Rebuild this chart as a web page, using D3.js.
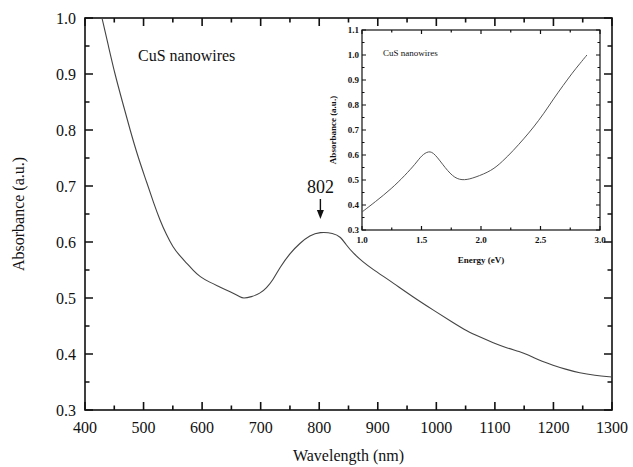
<!DOCTYPE html>
<html>
<head>
<meta charset="utf-8">
<script src="https://cdn.jsdelivr.net/npm/d3@7"></script>
<style>
  body { margin: 0; background: #fff; }
  svg { display: block; }
</style>
</head>
<body>
<div id="chart"></div>
<script>
// main spectrum: wavelength (nm) vs absorbance
const wavelength = [429, 440, 451, 464, 477, 491, 506, 517, 528, 539, 550, 562, 574, 585, 596, 613, 630, 648, 665, 670, 684, 699, 710, 721, 733, 750, 767, 784, 801, 824, 837, 845, 858, 875, 892, 909, 926, 960, 994, 1030, 1052, 1075, 1097, 1120, 1143, 1155, 1165, 1180, 1199, 1220, 1245, 1270, 1300];
const absorbance = [1.0, 0.95, 0.9, 0.85, 0.8, 0.75, 0.705, 0.67, 0.639, 0.613, 0.591, 0.575, 0.562, 0.549, 0.538, 0.528, 0.52, 0.511, 0.502, 0.499, 0.502, 0.508, 0.518, 0.532, 0.555, 0.58, 0.598, 0.612, 0.618, 0.616, 0.609, 0.596, 0.58, 0.564, 0.551, 0.539, 0.527, 0.502, 0.479, 0.455, 0.441, 0.43, 0.42, 0.411, 0.404, 0.399, 0.394, 0.387, 0.38, 0.373, 0.366, 0.362, 0.359];

// inset: energy (eV) vs absorbance
const energy = [1.0, 1.11, 1.25, 1.36, 1.45, 1.50, 1.56, 1.61, 1.70, 1.78, 1.86, 1.95, 2.09, 2.18, 2.27, 2.36, 2.44, 2.53, 2.61, 2.69, 2.77, 2.83, 2.89];
const insetAbs = [0.372, 0.412, 0.466, 0.518, 0.565, 0.598, 0.617, 0.607, 0.547, 0.506, 0.498, 0.510, 0.537, 0.574, 0.617, 0.665, 0.71, 0.767, 0.825, 0.878, 0.93, 0.965, 1.0];

const xTicks = [400, 500, 600, 700, 800, 900, 1000, 1100, 1200, 1300];
const yTicks = [0.3, 0.4, 0.5, 0.6, 0.7, 0.8, 0.9, 1.0];
const insetXTicks = [1.0, 1.5, 2.0, 2.5, 3.0];
const insetYTicks = [0.3, 0.4, 0.5, 0.6, 0.7, 0.8, 0.9, 1.0, 1.1];

const W = 633, H = 467;
const SERIF = "'Liberation Serif', 'Times New Roman', Times, 'DejaVu Serif', serif";
const svg = d3.select("#chart").append("svg")
  .attr("width", W).attr("height", H);

const plot = { left: 85, top: 18, right: 612, bottom: 410 };
const x = d3.scaleLinear().domain([400, 1300]).range([plot.left, plot.right]);
const y = d3.scaleLinear().domain([0.3, 1.0]).range([plot.bottom, plot.top]);

// midpoints between major ticks, used as minor ticks
const mids = t => t.slice(0, -1).map((v, i) => (v + t[i + 1]) / 2);

// frame plus inward ticks on all four sides
function frame(g, xs, ys, box, xMaj, yMaj, major, minor, sw) {
  let d = "";
  [[xMaj, major], [mids(xMaj), minor]].forEach(([vals, len]) => {
    vals.forEach(v => {
      const px = xs(v);
      d += `M${px},${box.bottom}V${box.bottom - len}M${px},${box.top}V${box.top + len}`;
    });
  });
  [[yMaj, major], [mids(yMaj), minor]].forEach(([vals, len]) => {
    vals.forEach(v => {
      const py = ys(v);
      d += `M${box.left},${py}H${box.left + len}M${box.right},${py}H${box.right - len}`;
    });
  });
  g.append("path").attr("d", d)
    .attr("fill", "none").attr("stroke", "#111").attr("stroke-width", sw);
  g.append("rect").attr("x", box.left).attr("y", box.top)
    .attr("width", box.right - box.left).attr("height", box.bottom - box.top)
    .attr("fill", "none").attr("stroke", "#111").attr("stroke-width", sw);
}

function label(sel) {
  return sel.attr("fill", "#111").style("font-family", SERIF);
}

frame(svg.append("g"), x, y, plot, xTicks, yTicks, 8, 4.5, 1.6);

const line = d3.line().x(d => x(d[0])).y(d => y(d[1])).curve(d3.curveBasis);
svg.append("path")
  .datum(wavelength.map((w, i) => [w, absorbance[i]]))
  .attr("d", line)
  .attr("fill", "none").attr("stroke", "#444").attr("stroke-width", 1.1);

// tick labels
label(svg.append("g").selectAll("text").data(xTicks).join("text")
  .attr("x", d => x(d)).attr("y", 433)
  .attr("text-anchor", "middle").attr("font-size", 16))
  .text(d => d);
label(svg.append("g").selectAll("text").data(yTicks).join("text")
  .attr("x", 76).attr("y", d => y(d) + 5.5)
  .attr("text-anchor", "end").attr("font-size", 16))
  .text(d => d.toFixed(1));

label(svg.append("text").attr("x", (plot.left + plot.right) / 2).attr("y", 461)
  .attr("text-anchor", "middle").attr("font-size", 16))
  .text("Wavelength (nm)");
label(svg.append("text").attr("transform", "translate(24,214) rotate(-90)")
  .attr("text-anchor", "middle").attr("font-size", 16))
  .text("Absorbance (a.u.)");

label(svg.append("text").attr("x", 138).attr("y", 61).attr("font-size", 16))
  .text("CuS nanowires");

// peak annotation
label(svg.append("text").attr("x", x(802)).attr("y", 193)
  .attr("text-anchor", "middle").attr("font-size", 18)).text("802");
svg.append("path")
  .attr("d", `M${x(802)},199V212`)
  .attr("stroke", "#111").attr("stroke-width", 1.4);
svg.append("path")
  .attr("d", `M${x(802) - 3.5},210 L${x(802) + 3.5},210 L${x(802)},219 Z`)
  .attr("fill", "#111");

// inset
const ibox = { left: 362, top: 30, right: 600, bottom: 230 };
const ix = d3.scaleLinear().domain([1.0, 3.0]).range([ibox.left, ibox.right]);
const iy = d3.scaleLinear().domain([0.3, 1.1]).range([ibox.bottom, ibox.top]);

const insetG = svg.append("g");
insetG.append("rect").attr("x", ibox.left).attr("y", ibox.top)
  .attr("width", ibox.right - ibox.left).attr("height", ibox.bottom - ibox.top).attr("fill", "#fff");
frame(insetG, ix, iy, ibox, insetXTicks, insetYTicks, 4, 2.5, 1.2);

const iline = d3.line().x(d => ix(d[0])).y(d => iy(d[1])).curve(d3.curveBasis);
svg.append("path")
  .datum(energy.map((e, i) => [e, insetAbs[i]]))
  .attr("d", iline)
  .attr("fill", "none").attr("stroke", "#555").attr("stroke-width", 1);

label(svg.append("g").selectAll("text").data(insetXTicks).join("text")
  .attr("x", d => ix(d)).attr("y", 243)
  .attr("text-anchor", "middle").attr("font-size", 9).attr("font-weight", "bold"))
  .text(d => d.toFixed(1));
label(svg.append("g").selectAll("text").data(insetYTicks).join("text")
  .attr("x", 359).attr("y", d => iy(d) + 3)
  .attr("text-anchor", "end").attr("font-size", 9).attr("font-weight", "bold"))
  .text(d => d.toFixed(1));

label(svg.append("text").attr("x", (ibox.left + ibox.right) / 2).attr("y", 263)
  .attr("text-anchor", "middle").attr("font-size", 9).attr("font-weight", "bold"))
  .text("Energy (eV)");
label(svg.append("text").attr("transform", "translate(336,130) rotate(-90)")
  .attr("text-anchor", "middle").attr("font-size", 9).attr("font-weight", "bold"))
  .text("Absorbance (a.u.)");
label(svg.append("text").attr("x", 383).attr("y", 56).attr("font-size", 9))
  .text("CuS nanowires");
</script>
</body>
</html>
